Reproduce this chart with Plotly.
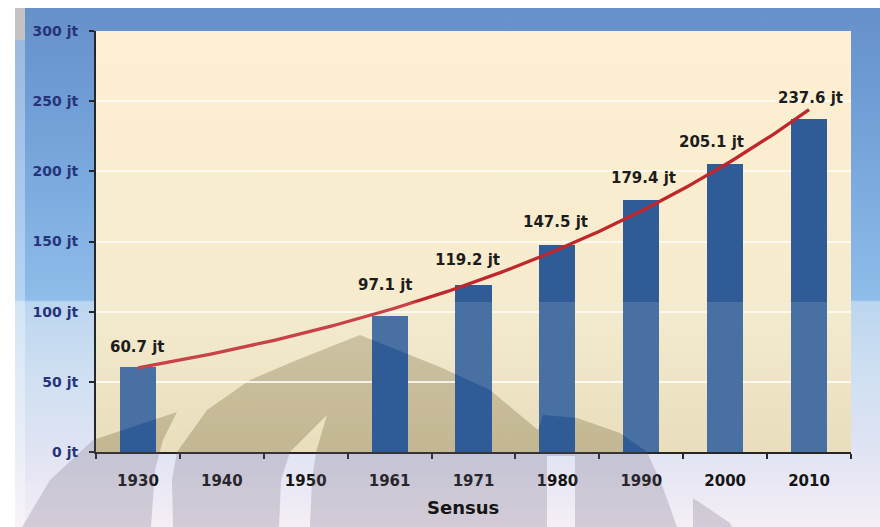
import base64
import numpy as np
import plotly.graph_objects as go

# Census years and population (millions, "jt")
years = ["1930", "1940", "1950", "1961", "1971", "1980", "1990", "2000", "2010"]
population = [60.7, None, None, 97.1, 119.2, 147.5, 179.4, 205.1, 237.6]
y_ticks = [0, 50, 100, 150, 200, 250, 300]
y_tick_text = [f"{v} jt" for v in y_ticks]

# label nudges in pixels (dx, distance above bar top)
label_nudge = {0: (0, 20), 3: (-4, 31), 4: (-6, 25), 5: (-2, 23),
               6: (2, 22), 7: (-14, 22), 8: (1, 21)}

W, H = 880, 527
L, R, T, B = 96, 29, 31, 75
PW, PH = W - L - R, H - T - B


def px_x(px):
    return (px - L) / PW


def px_y(py):
    return (H - B - py) / PH


idx = np.arange(len(years))
known = [(i, v) for i, v in zip(idx, population) if v is not None]
xk = np.array([k[0] for k in known], dtype=float)
yk = np.array([k[1] for k in known], dtype=float)

# exponential trendline fitted to the census values
slope, intercept = np.polyfit(xk, np.log(yk), 1)
x_trend = np.linspace(xk.min(), xk.max(), 160)
y_trend = np.exp(intercept + slope * x_trend)

fig = go.Figure()
fig.add_bar(x=idx, y=population, width=0.43,
            marker=dict(color="#2f5b96", line=dict(width=0)),
            hoverinfo="skip")
fig.add_scatter(x=x_trend, y=y_trend, mode="lines",
                line=dict(color="#c0272d", width=3.3), hoverinfo="skip")

for i, v in enumerate(population):
    if v is None:
        continue
    dx, dy = label_nudge.get(i, (0, 22))
    fig.add_annotation(x=i, y=v, text=f"{v:.1f} jt", showarrow=False,
                       xshift=dx, yshift=dy, yanchor="middle",
                       font=dict(family="DejaVu Sans", size=15, weight=700,
                                 color="#1c1c1c"))

fig.add_annotation(xref="paper", yref="paper", x=px_x(463), y=px_y(507),
                   text="Sensus", showarrow=False, xanchor="center",
                   yanchor="middle",
                   font=dict(family="DejaVu Sans", size=18, weight=700,
                             color="#151515"))


def stops(items, y0, y1):
    out = []
    for y, c in items:
        out.append(f'<stop offset="{(y - y0) / (y1 - y0):.4f}" stop-color="{c}"/>')
    return "".join(out)


outer_stops = stops([(8, "#6690c9"), (100, "#6f9dd5"), (200, "#7eade1"),
                     (300, "#8fbde9"), (302, "#bcd6ef"), (380, "#d0e0f2"),
                     (452, "#e0e4f3"), (527, "#f5eef5")], 8, 527)
plot_stops = stops([(31, "#fdf0d3"), (150, "#fbeed0"), (300, "#f7ebcd"),
                    (302, "#f3e9c9"), (452, "#e6d9b3")], 31, 452)

# watermark emblem outline (pixel coordinates)
dome = ("M173,527 L172,480 L177,452 L207,410 L250,380 L297,360 L360,335 "
        "L440,367 L490,390 L538,430 L543,415 L577,418 L620,433 L647,452 "
        "L662,485 L677,527 L575,527 L575,456 L547,456 L547,527 Z")
crescent = "M279,527 L281,480 L290,452 L327,415 L316,452 L312,480 L310,527 Z"
left_leg = "M22,527 L50,480 L93,440 L177,412 L163,440 L155,470 L151,527 Z"
small_leg = "M693,498 L730,523 L732,527 L693,527 Z"
emblem = f"{dome} {crescent} {left_leg}"

plot_clip = f'<clipPath id="plotarea"><rect x="{L}" y="{T}" width="{PW}" height="{PH}"/></clipPath>'

background_svg = f'''<svg xmlns="http://www.w3.org/2000/svg" width="{W}" height="{H}" viewBox="0 0 {W} {H}" preserveAspectRatio="none">
<defs>
<linearGradient id="outer" gradientUnits="userSpaceOnUse" x1="0" y1="8" x2="0" y2="527">{outer_stops}</linearGradient>
<linearGradient id="plot" gradientUnits="userSpaceOnUse" x1="0" y1="31" x2="0" y2="452">{plot_stops}</linearGradient>
{plot_clip}
</defs>
<rect x="0" y="0" width="{W}" height="{H}" fill="#ffffff"/>
<rect x="15" y="8" width="865" height="519" fill="url(#outer)"/>
<rect x="15" y="8" width="10" height="519" fill="#ffffff" fill-opacity="0.35"/>
<rect x="15" y="8" width="10" height="32" fill="#c4c4c4"/>
<rect x="{L}" y="{T}" width="{PW}" height="{PH}" fill="url(#plot)"/>
<path clip-path="url(#plotarea)" fill-rule="evenodd" fill="rgb(60,50,20)" fill-opacity="0.2" d="{emblem}"/>
</svg>'''

overlay_svg = f'''<svg xmlns="http://www.w3.org/2000/svg" width="{W}" height="{H}" viewBox="0 0 {W} {H}" preserveAspectRatio="none">
<defs>
<clipPath id="lower"><rect x="{L}" y="302" width="{PW}" height="{452 - 302}"/></clipPath>
<clipPath id="outside"><path clip-rule="evenodd" d="M0,0 H{W} V{H} H0 Z M{L},{T} H{L + PW} V{T + PH} H{L} Z"/></clipPath>
</defs>
<path clip-path="url(#lower)" fill-rule="evenodd" fill="#ffffff" fill-opacity="0.13"
 d="M{L},302 H{L + PW} V452 H{L} Z {emblem}"/>
<path clip-path="url(#outside)" fill-rule="evenodd" fill="rgb(105,92,118)" fill-opacity="0.23" d="{emblem} {small_leg}"/>
</svg>'''


def to_uri(svg):
    return "data:image/svg+xml;base64," + base64.b64encode(svg.encode()).decode()


for src, layer in ((background_svg, "below"), (overlay_svg, "above")):
    fig.add_layout_image(source=to_uri(src), xref="paper", yref="paper",
                         x=px_x(0), y=px_y(0), sizex=W / PW, sizey=H / PH,
                         xanchor="left", yanchor="top", sizing="stretch",
                         layer=layer)

axis_color = "#262626"
fig.update_layout(
    width=W, height=H,
    margin=dict(l=L, r=R, t=T, b=B, pad=0),
    paper_bgcolor="#ffffff",
    plot_bgcolor="rgba(0,0,0,0)",
    showlegend=False,
    bargap=0,
    xaxis=dict(range=[-0.5, len(years) - 0.5], tickvals=list(idx),
               ticktext=years, ticks="", showline=True, linecolor=axis_color,
               linewidth=2, showgrid=False, zeroline=False,
               ticklabelstandoff=14,
               tickfont=dict(family="DejaVu Sans", size=15, weight=700,
                             color="#151515"),
               minor=dict(tickvals=list(np.arange(-0.5, len(years), 1.0)),
                          ticks="outside", ticklen=5, tickwidth=1.5,
                          tickcolor=axis_color, showgrid=False)),
    yaxis=dict(range=[0, 300], tickvals=y_ticks, ticktext=y_tick_text,
               ticks="outside", ticklen=5, tickwidth=1.5, tickcolor=axis_color,
               showline=True, linecolor=axis_color, linewidth=2,
               showgrid=True, gridcolor="rgba(255,252,244,0.85)", gridwidth=2,
               zeroline=False, ticklabelstandoff=8,
               tickfont=dict(family="DejaVu Sans", size=14, weight=700,
                             color="#27337a")),
)

fig.write_html("out.html")
